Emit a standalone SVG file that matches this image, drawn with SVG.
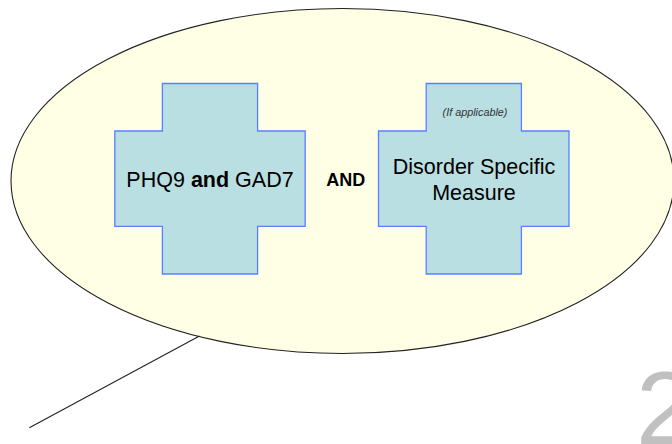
<svg xmlns="http://www.w3.org/2000/svg" width="672" height="444" viewBox="0 0 672 444">
<style>
.cross{fill:#b9dfe2;stroke:#5a80ff;stroke-width:1.3}
.t{font-family:"Liberation Sans",Arial,sans-serif;fill:#000;text-anchor:middle}
</style>
<rect x="0" y="0" width="672" height="444" fill="#ffffff"/>
<g id="callout">
<ellipse cx="342.5" cy="181" rx="331.5" ry="172.5" fill="#ffffe6" stroke="#222" stroke-width="1.1"/>
</g>
<g id="connectors">
<line x1="29.3" y1="427.7" x2="199.5" y2="336" stroke="#222" stroke-width="1.1"/>
</g>
<g id="phq">
<path class="cross" d="M162.4 83.5H257.6V131H305.2V226.3H257.6V274H162.4V226.3H114.8V131H162.4Z"/>
<text class="t" x="210" y="187.3" font-size="21.5">PHQ9 <tspan font-weight="bold">and</tspan> GAD7</text>
</g>
<g id="and">
<text class="t" x="345.7" y="186" font-size="18" font-weight="bold">AND</text>
</g>
<g id="dsm">
<path class="cross" d="M426.2 83.5H521.4V131H569V226.3H521.4V274H426.2V226.3H378.5V131H426.2Z"/>
<text class="t" x="475" y="116" font-size="10.8" font-style="italic" fill="#333" style="fill:#333">(If applicable)</text>
<text class="t" x="474" y="174" font-size="21.5">Disorder Specific</text>
<text class="t" x="474" y="199.5" font-size="21.5">Measure</text>
</g>
<g id="pagenum">
<text x="636" y="443.5" font-family="'Liberation Sans',Arial,sans-serif" font-size="104" fill="#c0c0c0">2</text>
</g>
</svg>
